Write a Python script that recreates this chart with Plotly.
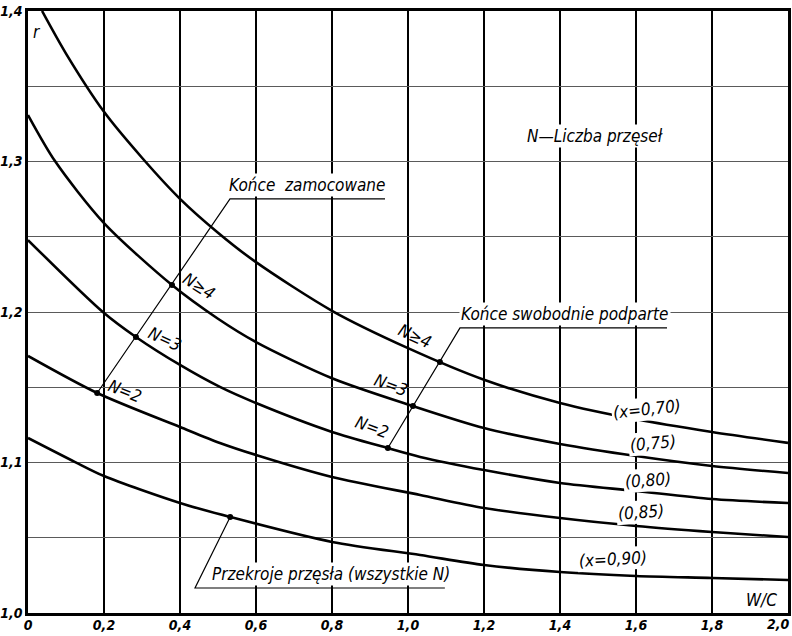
import plotly.graph_objects as go

# ---------------- data ----------------
x_tickvals = [0, 0.2, 0.4, 0.6, 0.8, 1.0, 1.2, 1.4, 1.6, 1.8, 2.0]
x_ticktext = ["0", "0,2", "0,4", "0,6", "0,8", "1,0", "1,2", "1,4", "1,6", "1,8", "2,0"]
y_tickvals = [1.0, 1.05, 1.1, 1.15, 1.2, 1.25, 1.3, 1.35, 1.4]
y_ticktext = ["1,0", "", "1,1", "", "1,2", "", "1,3", "", "1,4"]

wc_070 = [0.037, 0.1, 0.2, 0.3, 0.4, 0.5, 0.6, 0.8, 1.0, 1.2, 1.4, 1.6, 1.8, 2.0]
r_070 = [1.400, 1.3717, 1.333, 1.3025, 1.2752, 1.2527, 1.2331, 1.2008, 1.1760, 1.1550, 1.1396, 1.1287, 1.1203, 1.1130]

wc_075 = [0.0, 0.071, 0.2, 0.379, 0.5, 0.6, 0.8, 1.013, 1.2, 1.4, 1.6, 1.8, 2.0]
r_075 = [1.3309, 1.3003, 1.2591, 1.2179, 1.1955, 1.1800, 1.1560, 1.1375, 1.1229, 1.1123, 1.1043, 1.0977, 1.0930]

wc_080 = [0.0, 0.197, 0.284, 0.4, 0.505, 0.6, 0.8, 0.947, 1.032, 1.2, 1.4, 1.6, 1.8, 2.0]
r_080 = [1.2478, 1.2000, 1.1834, 1.1648, 1.1502, 1.1395, 1.1203, 1.1096, 1.1037, 1.0950, 1.0864, 1.0811, 1.0757, 1.0731]

wc_085 = [0.0, 0.182, 0.4, 0.505, 0.6, 0.8, 1.032, 1.2, 1.4, 1.6, 1.8, 2.0]
r_085 = [1.1708, 1.1462, 1.1236, 1.1130, 1.1050, 1.0904, 1.0784, 1.0698, 1.0631, 1.0578, 1.0538, 1.0505]

wc_090 = [0.0, 0.124, 0.2, 0.4, 0.532, 0.8, 1.032, 1.2, 1.4, 1.6, 1.8, 2.0]
r_090 = [1.1163, 1.1003, 1.0910, 1.0731, 1.0638, 1.0472, 1.0385, 1.0319, 1.0272, 1.0246, 1.0233, 1.0219]

curve_labels = ["(x=0,70)", "(0,75)", "(0,80)", "(0,85)", "(x=0,90)"]

# points "Końce zamocowane" (N=2, N=3, N>=4)
fixed_wc = [0.182, 0.284, 0.379]
fixed_r = [1.1462, 1.1834, 1.2179]
# points "Końce swobodnie podparte" (N=2, N=3, N>=4)
free_wc = [0.947, 1.013, 1.084]
free_r = [1.1096, 1.1375, 1.1668]
n_labels = ["N=2", "N=3", "N≥4"]
# point "Przekroje przęsła"
span_wc = [0.532]
span_r = [1.0638]

FONT = "DejaVu Sans Condensed, DejaVu Sans, Liberation Sans Narrow, sans-serif"

fig = go.Figure()

for xs, ys in [(wc_070, r_070), (wc_075, r_075), (wc_080, r_080), (wc_085, r_085), (wc_090, r_090)]:
    fig.add_trace(go.Scatter(x=xs, y=ys, mode="lines",
                             line=dict(color="black", width=2.6, shape="spline", smoothing=0.8),
                             hoverinfo="skip", showlegend=False))

# leader lines
fig.add_trace(go.Scatter(x=[fixed_wc[0], 0.5316, 0.9395], y=[fixed_r[0], 1.2751, 1.2751],
                         mode="lines", line=dict(color="black", width=1.2), showlegend=False))
fig.add_trace(go.Scatter(x=[free_wc[0], 1.1368, 1.6816], y=[free_r[0], 1.1894, 1.1894],
                         mode="lines", line=dict(color="black", width=1.2), showlegend=False))
fig.add_trace(go.Scatter(x=[span_wc[0], 0.4395, 1.097], y=[span_r[0], 1.0166, 1.0166],
                         mode="lines", line=dict(color="black", width=1.2), showlegend=False))

# markers
fig.add_trace(go.Scatter(x=fixed_wc + free_wc + span_wc, y=fixed_r + free_r + span_r, mode="markers",
                         marker=dict(color="black", size=6), showlegend=False))

ann = []
def A(x, y, text, size=16, angle=0, bg=None, xanchor="center"):
    d = dict(x=x, y=y, xref="x", yref="y", text=text, showarrow=False, textangle=angle,
             font=dict(family=FONT, size=size, color="black", style="italic"), xanchor=xanchor,
             yanchor="middle")
    if bg:
        d.update(bgcolor=bg, borderpad=1)
    ann.append(d)

A(0.024, 1.386, "r", size=17)
A(1.492, 1.317, "N—Liczba przęseł", size=17, bg="white")
A(0.734, 1.2844, "Końce  zamocowane", size=17, bg="white")
A(1.413, 1.1987, "Końce swobodnie podparte", size=17, bg="white")
A(0.797, 1.0259, "Przekroje przęsła (wszystkie N)", size=17, bg="white")
A(1.929, 1.0086, "W/C", size=17)

curve_lab_pos = [(1.629, 1.1355, -6), (1.645, 1.1130, -5), (1.632, 1.0886, -4), (1.613, 1.0673, -4), (1.539, 1.0359, -3)]
for (x, y, a), t in zip(curve_lab_pos, curve_labels):
    A(x, y, t, size=17, angle=a, bg="white")

n_lab_pos_fixed = [(0.255, 1.1475, 22), (0.361, 1.182, 25), (0.45, 1.2173, 32)]
n_lab_pos_free = [(0.905, 1.1236, 20), (0.955, 1.1515, 20), (1.018, 1.184, 25)]
for (x, y, a), t in zip(n_lab_pos_fixed, n_labels):
    A(x, y, t, size=17, angle=a)
for (x, y, a), t in zip(n_lab_pos_free, n_labels):
    A(x, y, t, size=17, angle=a)

tickfont = dict(family=FONT, size=14, color="black", style="italic", weight="bold")

# last x tick label sits at the right page edge: draw it right-aligned so it stays readable
ann.append(dict(x=1.0, y=0.0, xref="paper", yref="paper", text=x_ticktext[-1], showarrow=False,
                xanchor="right", yanchor="top", xshift=4, yshift=-1, font=tickfont))

fig.update_layout(
    width=792, height=636,
    margin=dict(l=28, r=4, t=11, b=23),
    paper_bgcolor="white", plot_bgcolor="white",
    annotations=ann,
    showlegend=False,
    xaxis=dict(range=[0, 2.0], tickvals=x_tickvals, ticktext=x_ticktext[:-1] + [""], tickfont=tickfont,
               showgrid=True, gridcolor="black", gridwidth=1.6, zeroline=False,
               showline=True, linecolor="black", linewidth=2.5, mirror=True,
               ticks="", automargin=False, ticklabeloverflow="allow", ticklabelstandoff=-3),
    yaxis=dict(range=[1.0, 1.4], tickvals=y_tickvals, ticktext=y_ticktext, tickfont=tickfont,
               showgrid=True, gridcolor="#5a5a5a", gridwidth=1.2, zeroline=False,
               showline=True, linecolor="black", linewidth=2.5, mirror=True,
               ticks="", automargin=False, ticklabeloverflow="allow"),
)

fig.write_html("out.html", config={"displayModeBar": False},
               post_script="document.body.style.margin='0px';")
